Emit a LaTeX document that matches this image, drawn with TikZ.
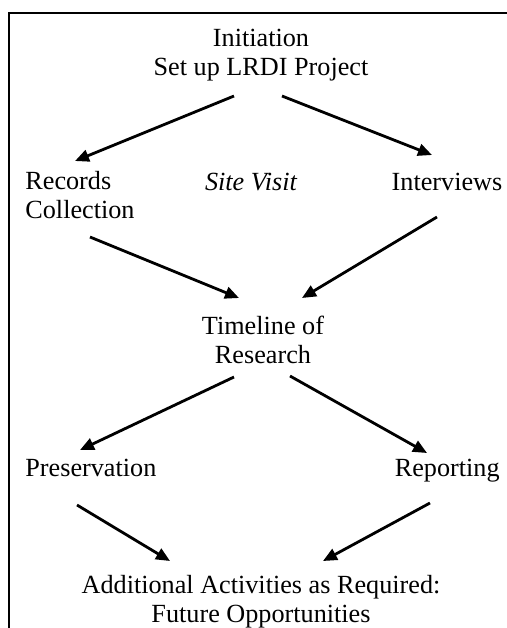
\documentclass[tikz,border=0pt]{standalone}
\usepackage{fontspec}
\setmainfont{Liberation Serif}
\usetikzlibrary{arrows.meta}

\begin{document}
\begin{tikzpicture}[x=0.5pt, y=-0.5pt,
  every node/.style={inner sep=0pt, font=\fontsize{13.1}{14.5}\selectfont},
  flow/.style={line width=1.4pt, -{Triangle[length=7pt, width=6pt]}}]

\useasboundingbox (0,0) rectangle (507,628);

% Frame (top and left edge only)
\draw[line width=1pt] (9,628) -- (9,13) -- (508,13);

% Steps (base = baseline of the last line)
\node[anchor=base, align=center] (init) at (261,75) {Initiation\\Set up LRDI Project};
\node[anchor=base west, align=left] (rec) at (25,218) {Records\\Collection};
\node[anchor=base, font=\fontsize{13.1}{14.5}\selectfont\itshape] (site) at (251,190) {Site Visit};
\node[anchor=base] (intv) at (447,190) {Interviews};
\node[anchor=base, align=center] (time) at (263,363) {Timeline of\\Research};
\node[anchor=base west] (pres) at (25,476) {Preservation};
\node[anchor=base east] (rep) at (500,476) {Reporting};
\node[anchor=base, align=center] (add) at (261,622) {Additional Activities as Required:\\Future Opportunities};

% Arrows
\draw[flow] ([shift={(-27,21)}]init.base) -- ([shift={(50,-57)}]rec.base west);
\draw[flow] ([shift={(21,21)}]init.base) -- ([shift={(-15,-35)}]intv.base);
\draw[flow] ([shift={(65,19)}]rec.base west) -- ([shift={(-24,-65)}]time.base);
\draw[flow] ([shift={(-10,27)}]intv.base) -- ([shift={(39,-65)}]time.base);
\draw[flow] ([shift={(-29,14)}]time.base) -- ([shift={(55,-26)}]pres.base west);
\draw[flow] ([shift={(27,13)}]time.base) -- ([shift={(-73,-23)}]rep.base east);
\draw[flow] ([shift={(52,29)}]pres.base west) -- ([shift={(-91,-61)}]add.base);
\draw[flow] ([shift={(-70,27)}]rep.base east) -- ([shift={(62,-61)}]add.base);

\end{tikzpicture}
\end{document}
